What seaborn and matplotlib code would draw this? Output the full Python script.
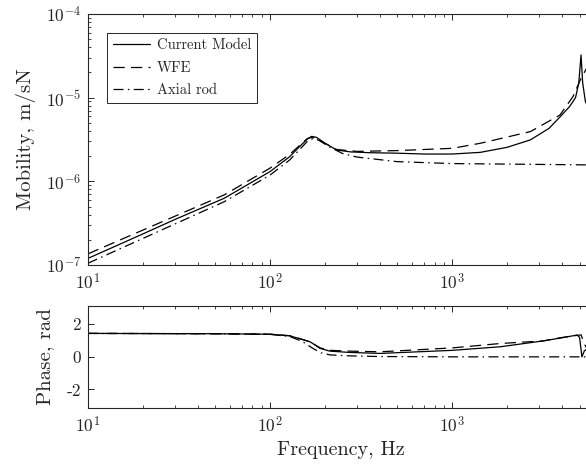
import numpy as np
import pandas as pd
import seaborn as sns
import matplotlib
matplotlib.use("Agg")
import matplotlib.pyplot as plt
from matplotlib.ticker import LogLocator, FixedLocator, NullFormatter

# ---------------- data ----------------
f_cur = [10, 20, 30, 56, 100, 128, 145, 160, 169, 180, 200, 232, 275, 350, 497, 700,
         1000, 1426, 2000, 2685, 3400, 3917, 4400, 4750, 4950, 5092, 5200, 5380, 5600, 6000]
m_cur = [1.2e-7, 2.35e-7, 3.5e-7, 6.28e-7, 1.31e-6, 1.97e-6, 2.6e-6, 3.2e-6, 3.45e-6, 3.35e-6,
         2.85e-6, 2.37e-6, 2.25e-6, 2.2e-6, 2.17e-6, 2.12e-6, 2.12e-6, 2.22e-6, 2.55e-6, 3.13e-6,
         4.3e-6, 5.93e-6, 7.8e-6, 1.0e-5, 1.5e-5, 3.24e-5, 1.5e-5, 9.0e-6, 7.5e-6, 6.5e-6]

f_wfe = [10, 56, 100, 128, 160, 169, 180, 200, 232, 300, 497, 1000, 1426, 2685, 3900,
         4600, 5090, 5500, 6000]
m_wfe = [1.36e-7, 6.89e-7, 1.44e-6, 2.1e-6, 3.25e-6, 3.35e-6, 3.25e-6, 2.85e-6, 2.4e-6,
         2.28e-6, 2.33e-6, 2.48e-6, 2.85e-6, 3.93e-6, 6.2e-6, 1.03e-5, 1.7e-5, 2.3e-5, 3.0e-5]

f_rod = [10, 56, 100, 128, 160, 172, 185, 210, 250, 300, 497, 1000, 6000]
m_rod = [1.05e-7, 5.71e-7, 1.19e-6, 1.8e-6, 3.0e-6, 3.25e-6, 3.1e-6, 2.6e-6, 2.15e-6,
         1.95e-6, 1.72e-6, 1.63e-6, 1.57e-6]

fp_cur = [10, 50, 100, 128, 145, 166, 188, 213, 275, 402, 1000, 1837, 3162, 4000, 4842,
          5000, 5150, 5300, 5500, 6000]
p_cur = [1.44, 1.42, 1.39, 1.29, 1.12, 0.92, 0.52, 0.35, 0.27, 0.21, 0.40, 0.62, 0.98, 1.17,
         1.34, 1.2, 0.0, 0.35, 0.5, 0.55]

fp_wfe = [10, 50, 100, 128, 145, 166, 188, 213, 275, 402, 1000, 1837, 3162, 3900, 4842,
          5100, 5300, 5500, 6000]
p_wfe = [1.44, 1.42, 1.39, 1.3, 1.12, 0.92, 0.55, 0.40, 0.35, 0.31, 0.55, 0.82, 0.98, 1.17,
         1.32, 1.35, 0.8, 0.5, 0.45]

fp_rod = [10, 50, 100, 128, 150, 170, 190, 213, 275, 400, 1000, 6000]
p_rod = [1.44, 1.42, 1.38, 1.25, 0.95, 0.55, 0.25, 0.12, 0.06, 0.02, 0.0, 0.0]

labels = ["Current Model", "WFE", "Axial rod"]
x_ticklabels = [r"$10^{1}$", r"$10^{2}$", r"$10^{3}$"]
y_ticklabels = [r"$10^{-7}$", r"$10^{-6}$", r"$10^{-5}$", r"$10^{-4}$"]
phase_ticklabels = ["-2", "0", "2"]

# ---------------- style ----------------
sns.set_style("ticks")
plt.rcParams.update({
    "font.family": "serif",
    "font.serif": ["cmr10", "DejaVu Serif"],
    "mathtext.fontset": "cm",
    "axes.unicode_minus": False,
    "axes.formatter.use_mathtext": True,
    "font.size": 12,
    "axes.edgecolor": "#262626",
    "axes.linewidth": 0.8,
    "xtick.direction": "in",
    "ytick.direction": "in",
    "xtick.color": "#262626",
    "ytick.color": "#262626",
})

W, H = 586, 465
fig = plt.figure(figsize=(W / 100, H / 100), dpi=100)
left, right = 88, 594
ax1 = fig.add_axes([left / W, 1 - 265 / H, (right - left) / W, (265 - 14) / H])
ax2 = fig.add_axes([left / W, 1 - 408 / H, (right - left) / W, (408 - 305.7) / H])

styles = [dict(linestyle="-"), dict(linestyle=(0, (9, 5))), dict(linestyle=(0, (8, 3.5, 1.2, 3.5)))]

for fx, my, lab, st in zip([f_cur, f_wfe, f_rod], [m_cur, m_wfe, m_rod], labels, styles):
    sns.lineplot(x=fx, y=my, ax=ax1, color="k", lw=0.9, label=lab, sort=False, **st)
for fx, py, st in zip([fp_cur, fp_wfe, fp_rod], [p_cur, p_wfe, p_rod], styles):
    sns.lineplot(x=fx, y=py, ax=ax2, color="k", lw=0.9, sort=False, **st)

for ax in (ax1, ax2):
    ax.set_xscale("log")
    ax.set_xlim(10, 6000)
    ax.xaxis.set_major_locator(FixedLocator([10, 100, 1000]))
    ax.set_xticklabels(x_ticklabels)
    ax.xaxis.set_minor_locator(LogLocator(base=10, subs=np.arange(2, 10)))
    ax.xaxis.set_minor_formatter(NullFormatter())
    ax.tick_params(which="both", top=True, right=True, labelsize=12.5)
    ax.tick_params(which="major", length=4, width=0.7, pad=5)
    ax.tick_params(which="minor", length=2.2, width=0.6)
    for s in ax.spines.values():
        s.set_visible(True)
    ax.grid(False)

ax1.set_yscale("log")
ax1.set_ylim(1e-7, 1e-4)
ax1.yaxis.set_major_locator(FixedLocator([1e-7, 1e-6, 1e-5, 1e-4]))
ax1.set_yticklabels(y_ticklabels)
ax1.yaxis.set_minor_locator(LogLocator(base=10, subs=np.arange(2, 10)))
ax1.yaxis.set_minor_formatter(NullFormatter())
ax1.set_ylabel("Mobility, m/sN", fontsize=15, labelpad=7)
ax1.set_xlabel("")

ax2.set_ylim(-np.pi, np.pi)
ax2.set_yticks([-2, 0, 2])
ax2.set_yticklabels(phase_ticklabels)
ax2.set_ylabel("Phase, rad", fontsize=15, labelpad=9)
ax2.set_xlabel("Frequency, Hz", fontsize=14.5, labelpad=4)

leg = ax1.legend(loc="upper left", bbox_to_anchor=(18.7 / (right - left), 1 - 18.7 / 251),
                 borderaxespad=0, frameon=True, fancybox=False, edgecolor="#262626",
                 framealpha=1, fontsize=10.5, handlelength=2.6, handletextpad=0.45,
                 labelspacing=0.6, borderpad=0.4)
leg.get_frame().set_linewidth(0.7)

fig.savefig("out.png", dpi=100)
